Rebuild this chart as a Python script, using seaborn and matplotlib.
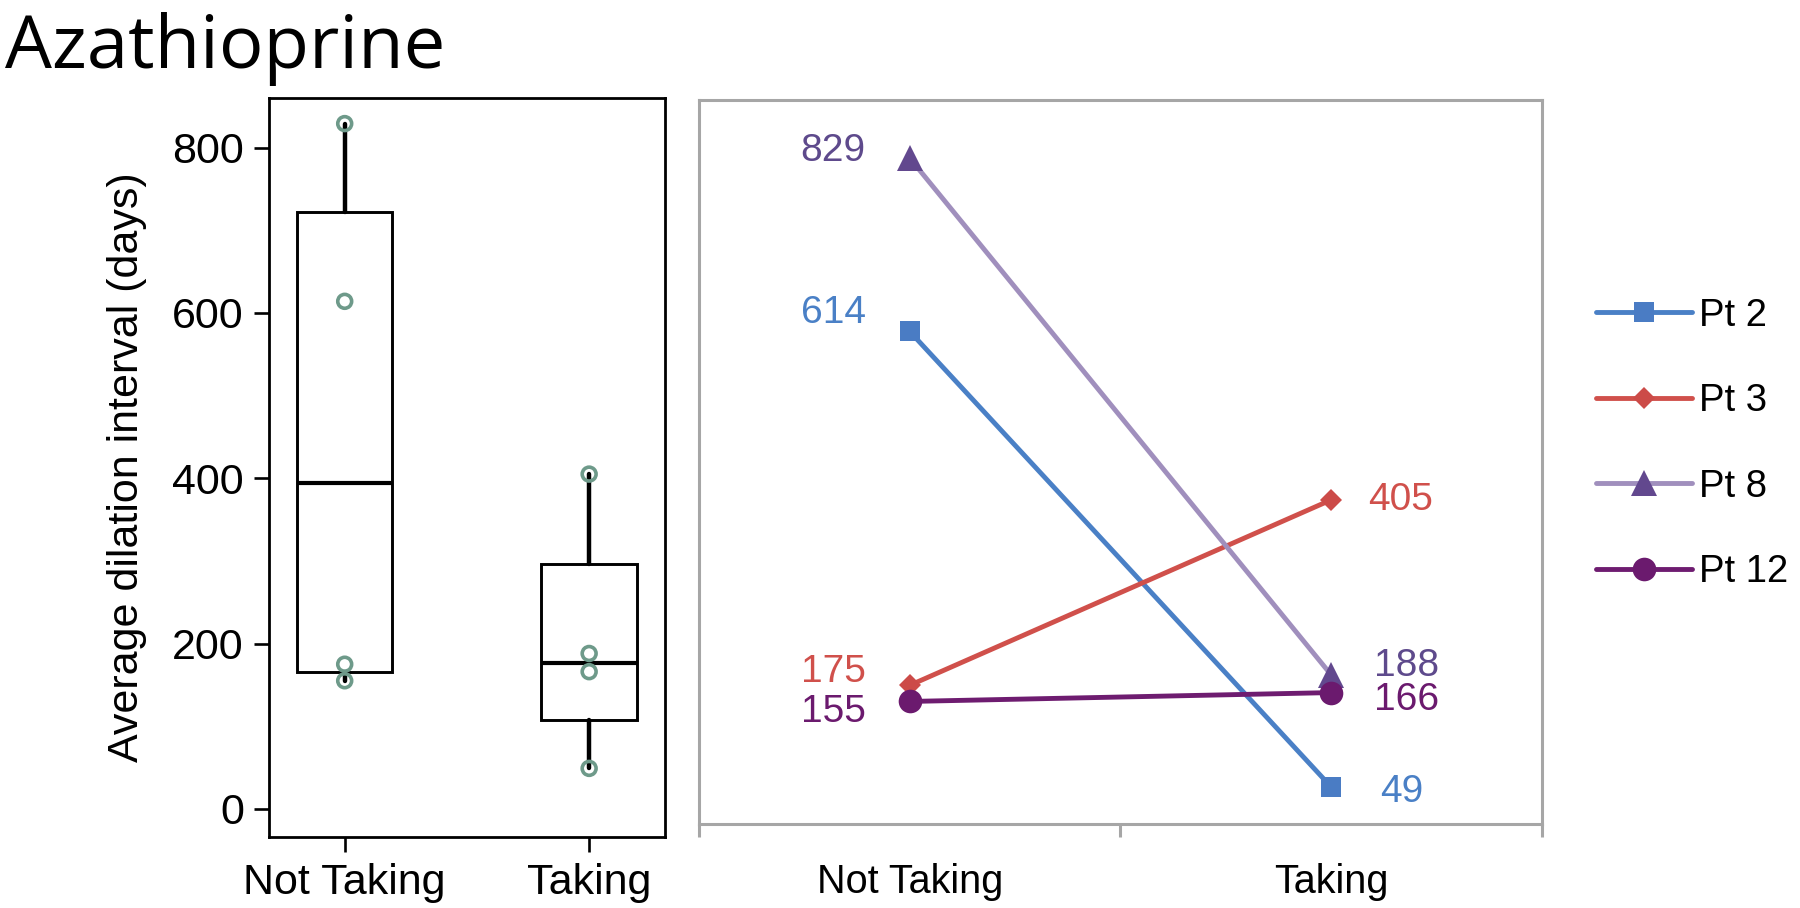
import seaborn as sns
import matplotlib.pyplot as plt
import numpy as np
import pandas as pd

# data
status = ['Not Taking', 'Taking']
patients = ['Pt 2', 'Pt 3', 'Pt 8', 'Pt 12']
pt2 = [614, 49]
pt3 = [175, 405]
pt8 = [829, 188]
pt12 = [155, 166]

# styling per patient: line colour, marker colour, marker, marker size
line_colors = ['#4a80c6', '#d0504b', '#a08fbd', '#6e1c70']
marker_colors = ['#4a7cc4', '#cc4b48', '#62488e', '#6b1a6e']
text_colors = ['#4a80c6', '#d0504b', '#5e4a8c', '#6b1a6e']
markers = ['s', 'D', '^', 'o']
msizes = [15, 11, 19, 17]

# label offsets (pixels) for the value labels, (left side, right side)
left_off = [(-44, 18), (-44, 13), (-44, 7), (-44, -11)]
right_off = [(49, -5), (37, 0), (43, 9), (43, -7)]

sns.set_style('ticks')
plt.rcParams['font.family'] = ['Liberation Sans', 'DejaVu Sans']
plt.rcParams['text.color'] = 'black'
plt.rcParams['axes.labelcolor'] = 'black'
plt.rcParams['xtick.color'] = 'black'
plt.rcParams['ytick.color'] = 'black'

fig = plt.figure(figsize=(18, 9.08), dpi=100)
ax1 = fig.add_axes([0.1494, 0.0782, 0.22, 0.8139])
ax2 = fig.add_axes([0.3883, 0.0925, 0.4683, 0.7974])

# ---- left panel: boxplot + points
values = [pt2, pt3, pt8, pt12]
df = pd.DataFrame({
    'status': [s for v in values for s in status],
    'days': [d for v in values for d in v],
})
df['status'] = pd.Categorical(df['status'], categories=status, ordered=True)

stats = []
for s in status:
    d = df.loc[df['status'] == s, 'days'].values
    q1, med, q3 = np.percentile(d, [25, 50, 75], method='midpoint')
    stats.append(dict(med=med, q1=q1, q3=q3, whislo=d.min(), whishi=d.max(), fliers=[]))

ax1.bxp(stats, positions=[0, 1], widths=0.39, showcaps=False, patch_artist=True,
        boxprops=dict(facecolor='white', edgecolor='black', linewidth=2.1),
        medianprops=dict(color='black', linewidth=3),
        whiskerprops=dict(color='black', linewidth=3.2), zorder=2)

sns.stripplot(data=df, x='status', y='days', jitter=False, color='#6e9a8a',
              size=10, linewidth=2.6, edgecolor='#6e9a8a', ax=ax1, zorder=3)
for c in ax1.collections:
    c.set_facecolor('none')

ax1.set_xlim(-0.31, 1.31)
ax1.set_ylim(-34, 860)
ax1.set_yticks([0, 200, 400, 600, 800])
ax1.set_xticks([0, 1])
ax1.set_xticklabels(status)
ax1.set_xlabel('')
ax1.set_ylabel('Average dilation interval (days)', fontsize=31)
ax1.yaxis.set_label_coords(-0.308, 0.5)
ax1.tick_params(axis='both', labelsize=31, length=11, width=1.9, color='black')
ax1.tick_params(axis='y', pad=7)
ax1.tick_params(axis='x', pad=8)
for sp in ax1.spines.values():
    sp.set_visible(True)
    sp.set_color('black')
    sp.set_linewidth(2.0)

# ---- right panel: paired lines
for i, name in enumerate(patients):
    sns.lineplot(x=status, y=values[i], ax=ax2, color=line_colors[i], linewidth=3.5,
                 marker=markers[i], markersize=msizes[i],
                 markerfacecolor=marker_colors[i], markeredgecolor=marker_colors[i],
                 markeredgewidth=0, label=name, zorder=3 + i)
    for j in range(2):
        off = left_off[i] if j == 0 else right_off[i]
        ax2.annotate(str(values[i][j]), (j, values[i][j]), xytext=off,
                     textcoords='offset pixels', ha='right' if j == 0 else 'left',
                     va='center', fontsize=28, color=text_colors[i])

ax2.set_xlim(-0.5, 1.5)
ax2.set_ylim(3, 901)
ax2.set_yticks([])
ax2.set_xticks([0, 1])
ax2.set_xticklabels(status)
ax2.set_xticks([-0.5, 0.5, 1.5], minor=True)
ax2.set_xlabel('')
ax2.set_ylabel('')
ax2.tick_params(axis='x', which='major', length=0, labelsize=28.5, pad=28)
ax2.tick_params(axis='x', which='minor', length=9, width=2.2, color='#a6a6a6')
for sp in ax2.spines.values():
    sp.set_visible(True)
    sp.set_color('#a6a6a6')
    sp.set_linewidth(2.2)

handles, labels = ax2.get_legend_handles_labels()
ax2.legend_.remove()
fig.legend(handles, labels, loc='center left', bbox_to_anchor=(0.8867, 0.511),
           frameon=False, fontsize=27.5, handlelength=2.5, handletextpad=0.2,
           labelspacing=1.3, borderpad=0, borderaxespad=0)

fig.text(0.003, 0.925, 'Azathioprine', fontsize=53.5, va='baseline', ha='left',
         family=['Open Sans', 'DejaVu Sans'])

fig.savefig('out.png', dpi=100)
